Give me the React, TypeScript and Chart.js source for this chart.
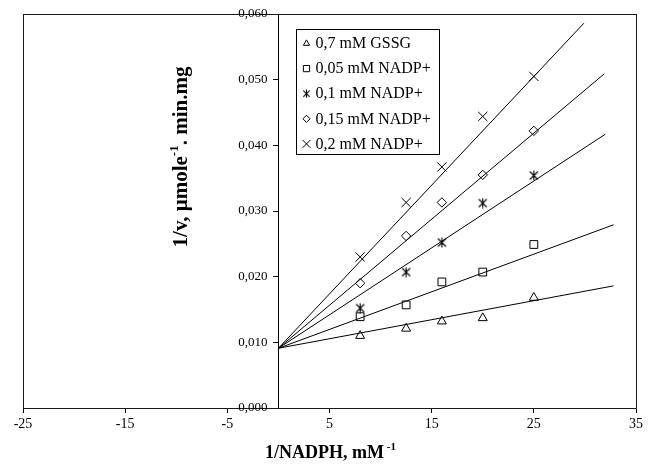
import React, { useEffect, useRef } from 'react';
import { Chart, registerables } from 'chart.js';
import { drawPoint } from 'chart.js/helpers';

Chart.register(...registerables);

// 1/[NADPH] values (mM^-1) at which rates were measured
const reciprocalNADPH = [8, 12.5, 16, 20, 25];

// 1/v values for each inhibitor condition
const gssg07 = [0.011, 0.0121, 0.0132, 0.0137, 0.0168];
const nadp005 = [0.0139, 0.0157, 0.0192, 0.0207, 0.0249];
const nadp01 = [0.0152, 0.0207, 0.0252, 0.0312, 0.0354];
const nadp015 = [0.019, 0.0262, 0.0313, 0.0355, 0.0422];
const nadp02 = [0.023, 0.0313, 0.0367, 0.0444, 0.0505];

const seriesLabels = ['0,7 mM GSSG', '0,05 mM NADP+', '0,1 mM NADP+', '0,15 mM NADP+', '0,2 mM NADP+'];

// Regression lines: common intercept on the 1/v axis, end points per series
const fitIntercept = 0.0091;
const fitEndX = [32.8, 32.8, 32.0, 31.9, 29.9];
const fitEndY = [0.0186, 0.0279, 0.0417, 0.0509, 0.0586];

const xTickValues = [-25, -15, -5, 5, 15, 25, 35];
const yTickValues = [0, 0.01, 0.02, 0.03, 0.04, 0.05, 0.06];

const SERIF = "'Liberation Serif', 'Times New Roman', serif";

function makeStarMarker(size: number): HTMLCanvasElement {
  const c = document.createElement('canvas');
  c.width = size;
  c.height = size;
  const g = c.getContext('2d')!;
  const m = size / 2;
  const r = size / 2 - 0.5;
  const d = r * 0.8;
  g.strokeStyle = '#000';
  g.lineWidth = 1.1;
  g.beginPath();
  g.moveTo(m, m - r);
  g.lineTo(m, m + r);
  g.moveTo(m - d, m - d);
  g.lineTo(m + d, m + d);
  g.moveTo(m + d, m - d);
  g.lineTo(m - d, m + d);
  g.stroke();
  return c;
}

type Seg = { text: string; sup?: boolean };

function drawRich(ctx: CanvasRenderingContext2D, segs: Seg[], size: number, supSize: number) {
  const mainFont = `bold ${size}px ${SERIF}`;
  const supFont = `bold ${supSize}px ${SERIF}`;
  let total = 0;
  const widths = segs.map((s) => {
    ctx.font = s.sup ? supFont : mainFont;
    const w = ctx.measureText(s.text).width;
    total += w;
    return w;
  });
  let x = -total / 2;
  ctx.textAlign = 'left';
  ctx.textBaseline = 'alphabetic';
  segs.forEach((s, i) => {
    ctx.font = s.sup ? supFont : mainFont;
    ctx.fillText(s.text, x, s.sup ? -size * 0.42 : 0);
    x += widths[i];
  });
}

export default function App() {
  const canvasRef = useRef<HTMLCanvasElement | null>(null);

  useEffect(() => {
    document.body.style.margin = '0';
    const canvas = canvasRef.current;
    if (!canvas) return;

    const star = makeStarMarker(11);
    const starSmall = makeStarMarker(9);

    const seriesValues = [gssg07, nadp005, nadp01, nadp015, nadp02];
    const pointStyles: any[] = ['triangle', 'rect', star, 'rectRot', 'crossRot'];
    const pointRadii = [5.2, 5.5, 5.5, 4.7, 6.5];
    const legendStyles: any[] = ['triangle', 'rect', starSmall, 'rectRot', 'crossRot'];
    const legendRadii = [3.6, 4.4, 4.5, 3.6, 5.5];

    const fitSets = fitEndX.map((ex, i) => ({
      type: 'line' as const,
      label: `fit ${seriesLabels[i]}`,
      data: [
        { x: 0, y: fitIntercept },
        { x: ex, y: fitEndY[i] },
      ],
      borderColor: '#000',
      borderWidth: 1,
      pointRadius: 0,
      showLine: true,
      fill: false,
    }));

    const pointSets = seriesValues.map((vals, i) => ({
      type: 'scatter' as const,
      label: seriesLabels[i],
      data: reciprocalNADPH.map((x, j) => ({ x, y: vals[j] })),
      pointStyle: pointStyles[i],
      pointRadius: pointRadii[i],
      pointBorderColor: '#000',
      pointBackgroundColor: 'rgba(0,0,0,0)',
      pointBorderWidth: 1,
      showLine: false,
    }));

    const framePlugin = {
      id: 'frame',
      beforeDatasetsDraw(chart: any) {
        const { ctx, chartArea: a } = chart;
        ctx.save();
        ctx.strokeStyle = '#1a1a1a';
        ctx.lineWidth = 1;
        ctx.strokeRect(Math.round(a.left) + 0.5, Math.round(a.top) + 0.5, Math.round(a.right - a.left), Math.round(a.bottom - a.top));
        ctx.restore();
      },
    };

    // value labels for the 1/v axis, placed to the left of the axis line at x = 0
    const yLabelsPlugin = {
      id: 'yAxisLabels',
      afterDraw(chart: any) {
        const { ctx, scales } = chart;
        const ys = scales.y;
        const axisX = scales.x.getPixelForValue(0);
        ctx.save();
        ctx.fillStyle = '#000';
        ctx.font = `13px ${SERIF}`;
        ctx.textAlign = 'right';
        ctx.textBaseline = 'middle';
        yTickValues.forEach((v) => {
          ctx.fillText(v.toFixed(3).replace('.', ','), axisX - 11, ys.getPixelForValue(v));
        });
        ctx.restore();
      },
    };

    const titlesPlugin = {
      id: 'axisTitles',
      afterDraw(chart: any) {
        const { ctx, chartArea: a } = chart;
        ctx.save();
        ctx.fillStyle = '#000';
        ctx.translate((a.left + a.right) / 2 + 1, 458);
        drawRich(ctx, [{ text: '1/NADPH, mM' }, { text: ' -1', sup: true }], 18, 11);
        ctx.restore();

        ctx.save();
        ctx.fillStyle = '#000';
        ctx.translate(187, 157);
        ctx.rotate(-Math.PI / 2);
        drawRich(ctx, [{ text: '1/v, \u03bcmole' }, { text: '-1', sup: true }, { text: '. min.mg' }], 21, 13);
        ctx.restore();
      },
    };

    const legendPlugin = {
      id: 'boxLegend',
      afterDraw(chart: any) {
        const { ctx } = chart;
        const left = 296;
        const top = 29;
        const width = 143;
        const height = 125;
        ctx.save();
        ctx.fillStyle = '#fff';
        ctx.fillRect(left, top, width, height);
        ctx.strokeStyle = '#000';
        ctx.lineWidth = 1;
        ctx.strokeRect(left + 0.5, top + 0.5, width, height);
        ctx.font = `16px ${SERIF}`;
        ctx.textAlign = 'left';
        ctx.textBaseline = 'middle';
        seriesLabels.forEach((lab, i) => {
          const cy = top + 14.5 + i * 25.1;
          ctx.strokeStyle = '#000';
          ctx.fillStyle = 'rgba(0,0,0,0)';
          ctx.lineWidth = 1;
          drawPoint(ctx, { pointStyle: legendStyles[i], radius: legendRadii[i], rotation: 0, borderWidth: 1 } as any, 306.5, cy);
          ctx.fillStyle = '#000';
          ctx.fillText(lab, 315.5, cy + 0.5);
        });
        ctx.restore();
      },
    };

    const chart = new Chart(canvas, {
      type: 'scatter',
      data: { datasets: [...fitSets, ...pointSets] as any },
      options: {
        responsive: false,
        animation: false,
        layout: { padding: { left: 23, right: 17, top: 14, bottom: 0 } },
        plugins: {
          legend: { display: false },
          tooltip: { enabled: false },
          title: { display: false },
        },
        scales: {
          x: {
            type: 'linear',
            min: -25,
            max: 35,
            afterBuildTicks: (scale: any) => {
              scale.ticks = xTickValues.map((v) => ({ value: v }));
            },
            afterFit: (scale: any) => {
              scale.height = 63;
              scale.paddingLeft = 0;
              scale.paddingRight = 0;
            },
            grid: { drawOnChartArea: false, color: '#000', tickLength: 5, lineWidth: 1 },
            border: { display: false },
            ticks: {
              color: '#000',
              font: { family: SERIF, size: 14 },
              padding: 3,
              maxRotation: 0,
              autoSkip: false,
              callback: (v: any) => String(v),
            },
          },
          y: {
            type: 'linear',
            position: { x: 0 } as any,
            min: 0,
            max: 0.06,
            afterBuildTicks: (scale: any) => {
              scale.ticks = yTickValues.map((v) => ({ value: v }));
            },
            grid: { drawOnChartArea: false, color: '#000', tickLength: 5, lineWidth: 1 },
            border: { display: true, color: '#000', width: 1 },
            ticks: { display: false },
          },
        },
      },
      plugins: [framePlugin, yLabelsPlugin, titlesPlugin, legendPlugin],
    });

    return () => chart.destroy();
  }, []);

  return (
    <div style={{ position: 'fixed', left: 0, top: 0, width: 653, height: 471, background: '#fff' }}>
      <canvas ref={canvasRef} width={653} height={471} style={{ display: 'block' }} />
    </div>
  );
}
